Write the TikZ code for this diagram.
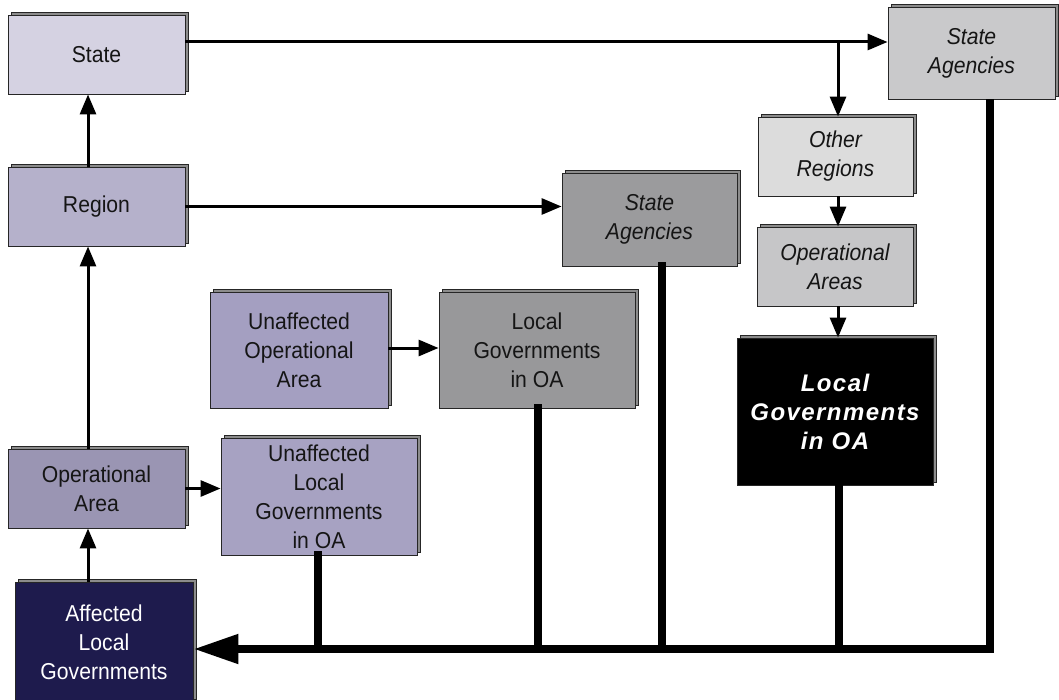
\documentclass[tikz,border=0pt]{standalone}
\usepackage{fontspec}
\setmainfont{Liberation Sans}
\newfontfamily\condfont{Liberation Sans}[FakeStretch=0.92]
\usetikzlibrary{arrows.meta,shadows,calc}
\definecolor{cState}{HTML}{D5D2E2}
\definecolor{cRegion}{HTML}{B5B1CB}
\definecolor{cOA}{HTML}{9A95B3}
\definecolor{cAff}{HTML}{1E1B4D}
\definecolor{cUL}{HTML}{A7A2C2}
\definecolor{cUOA}{HTML}{A49FC1}
\definecolor{cLGOA}{HTML}{98989A}
\definecolor{cSAm}{HTML}{9B9B9D}
\definecolor{cSAt}{HTML}{C9C9CB}
\definecolor{cOR}{HTML}{DCDCDC}
\definecolor{cOpA}{HTML}{C6C6C8}
\definecolor{cTxt}{HTML}{151515}
\tikzset{
  box/.style={draw=black!85, line width=0.9pt, inner sep=0pt, align=center,
    text=cTxt, font=\condfont\fontsize{23}{29}\selectfont,
    general shadow={shadow xshift=3pt, shadow yshift=3pt, fill=black!45, draw=black!85, line width=0.9pt}},
  itbox/.style={box, font=\condfont\fontsize{23}{29}\selectfont\itshape},
  arr/.style={line width=3pt, -{Triangle[length=20pt,width=16pt]}},
  thk/.style={line width=8pt, line cap=rect},
  thkarr/.style={line width=8pt, -{Triangle[length=45pt,width=28pt]}}
}
\begin{document}
\begin{tikzpicture}[x=1pt,y=-1pt]
\useasboundingbox (0,0) rectangle (1059,700);
% boxes
\node[box, fill=cState, minimum width=177pt, minimum height=79pt] (State) at (96.5,54.5) {State};
\node[box, fill=cRegion, minimum width=177pt, minimum height=79pt] (Region) at (96.5,206.5) {Region};
\node[box, fill=cOA, minimum width=177pt, minimum height=79pt] (OA) at (96.5,488.5) {Operational\\Area};
\node[box, fill=cAff, text=white, minimum width=178pt, minimum height=120pt] (Aff) at (104,642) {Affected\\Local\\Governments};
\node[box, fill=cUL, minimum width=196pt, minimum height=117pt] (UL) at (319,496.5) {Unaffected\\Local\\Governments\\in OA};
\node[box, fill=cUOA, minimum width=178pt, minimum height=116pt] (UOA) at (299,350) {Unaffected\\Operational\\Area};
\node[box, fill=cLGOA, minimum width=196pt, minimum height=116pt] (LGOA) at (537,350) {Local\\Governments\\in OA};
\node[itbox, fill=cSAm, minimum width=175pt, minimum height=93pt] (SAm) at (649.5,219.5) {State\\Agencies};
\node[itbox, fill=cSAt, minimum width=167pt, minimum height=92pt] (SAt) at (971.5,53) {State\\Agencies};
\node[itbox, fill=cOR, minimum width=155pt, minimum height=79pt] (OR) at (835.5,156.5) {Other\\Regions};
\node[itbox, fill=cOpA, minimum width=156pt, minimum height=79pt] (OpA) at (835,266.5) {Operational\\Areas};
\node[box, fill=black, text=white, minimum width=196pt, minimum height=147pt,
  font=\fontsize{24}{29}\selectfont\bfseries\itshape] (LGB) at (835,411.5) {\addfontfeatures{LetterSpace=6}Local\\\addfontfeatures{LetterSpace=6}Governments\\\addfontfeatures{LetterSpace=6}in OA};
% coordinates
\coordinate (j1) at (838,42);
\coordinate (bR) at (990,649);
\coordinate (xA) at (88,0);
% thin arrows
\draw[arr] (State.east |- j1) -- (SAt.west |- j1);
\draw[arr] (j1) -- (OR.north -| j1);
\draw[arr] (OR.south -| j1) -- (OpA.north -| j1);
\draw[arr] (OpA.south -| j1) -- (LGB.north -| j1);
\draw[arr] (Region.north -| xA) -- (State.south -| xA);
\draw[arr] (OA.north -| xA) -- (Region.south -| xA);
\draw[arr] (Aff.north -| xA) -- (OA.south -| xA);
\draw[arr] (Region.east) -- (SAm.west |- Region.east);
\draw[arr] (OA.east) -- (UL.west |- OA.east);
\draw[arr] (UOA.east |- 0,348) -- (LGOA.west |- 0,348);
% thick feedback lines
\draw[thk] (UL.south -| 318,0) -- (bR -| 318,0);
\draw[thk] (LGOA.south -| 538,0) -- (bR -| 538,0);
\draw[thk] (SAm.south -| 662,0) -- (bR -| 662,0);
\draw[thk] (LGB.south -| 839,0) -- (bR -| 839,0);
\draw[thkarr] (SAt.south -| bR) -- (bR) -- (Aff.east |- bR);
\end{tikzpicture}
\end{document}
